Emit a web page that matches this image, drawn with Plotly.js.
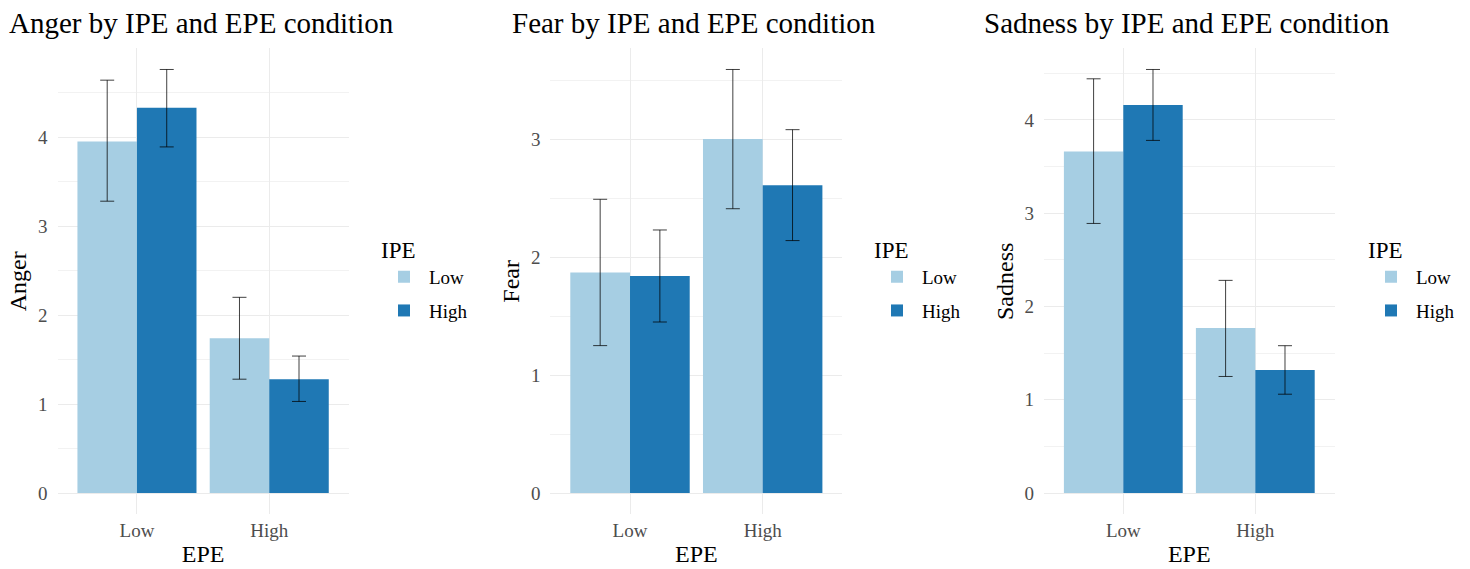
<!DOCTYPE html>
<html>
<head>
<meta charset="utf-8">
<script src="https://cdn.plot.ly/plotly-3.0.1.min.js"></script>
<style>
html,body{margin:0;padding:0;background:#fff;}
#chart{width:1470px;height:569px;}
</style>
</head>
<body>
<div id="chart"></div>
<script>
// ---- Data ----
const epeCategories = ['Low', 'High'];
const ipeLevels = ['Low', 'High'];
const ipeColors = ['#a6cee3', '#1f78b4'];

const angerLowIPE = [3.95, 1.74];
const angerLowIPEUpper = [4.64, 2.20];
const angerLowIPELower = [3.28, 1.28];
const angerHighIPE = [4.33, 1.28];
const angerHighIPEUpper = [4.76, 1.54];
const angerHighIPELower = [3.89, 1.03];

const fearLowIPE = [1.87, 3.00];
const fearLowIPEUpper = [2.49, 3.59];
const fearLowIPELower = [1.25, 2.41];
const fearHighIPE = [1.84, 2.61];
const fearHighIPEUpper = [2.23, 3.08];
const fearHighIPELower = [1.45, 2.14];

const sadnessLowIPE = [3.66, 1.77];
const sadnessLowIPEUpper = [4.44, 2.28];
const sadnessLowIPELower = [2.89, 1.25];
const sadnessHighIPE = [4.16, 1.32];
const sadnessHighIPEUpper = [4.54, 1.58];
const sadnessHighIPELower = [3.78, 1.06];

const panelTitles = ['Anger by IPE and EPE condition', 'Fear by IPE and EPE condition', 'Sadness by IPE and EPE condition'];
const yTitles = ['Anger', 'Fear', 'Sadness'];
const xTitle = 'EPE';
const legendTitle = 'IPE';

// ---- Build ----
const FONT = '"Liberation Serif", "Times New Roman", serif';
const panels = [
  {low: angerLowIPE, lowU: angerLowIPEUpper, lowL: angerLowIPELower, high: angerHighIPE, highU: angerHighIPEUpper, highL: angerHighIPELower},
  {low: fearLowIPE, lowU: fearLowIPEUpper, lowL: fearLowIPELower, high: fearHighIPE, highU: fearHighIPEUpper, highL: fearHighIPELower},
  {low: sadnessLowIPE, lowU: sadnessLowIPEUpper, lowL: sadnessLowIPELower, high: sadnessHighIPE, highU: sadnessHighIPEUpper, highL: sadnessHighIPELower}
];

const W = 1470, H = 569;
const xDomainsPx = [[57.6, 348.6], [550.4, 842.3], [1044.1, 1334.5]];
const yTopPx = 48.3, yBotPx = 514.3;
const legendXPx = [379, 872, 1366];
const titleXPx = [7, 510, 982];
const legendNames = ['legend', 'legend2', 'legend3'];

const traces = [];
const layout = {
  width: W, height: H,
  margin: {l: 0, r: 0, t: 0, b: 0},
  paper_bgcolor: '#ffffff',
  plot_bgcolor: '#ffffff',
  font: {family: FONT, color: '#000000'},
  barmode: 'group',
  bargap: 0.1,
  bargroupgap: 0,
  showlegend: true,
  annotations: []
};

panels.forEach((p, i) => {
  const n = i === 0 ? '' : String(i + 1);
  const xa = 'x' + n, ya = 'y' + n;
  const series = [
    {vals: p.low, up: p.lowU, lo: p.lowL},
    {vals: p.high, up: p.highU, lo: p.highL}
  ];
  series.forEach((s, k) => {
    traces.push({
      type: 'bar',
      x: epeCategories,
      y: s.vals,
      name: ipeLevels[k],
      xaxis: xa, yaxis: ya,
      legend: legendNames[i],
      legendgroup: 'g' + i + '_' + k,
      marker: {color: ipeColors[k], line: {width: 0}},
      error_y: {
        type: 'data', symmetric: false,
        array: s.up.map((u, j) => u - s.vals[j]),
        arrayminus: s.lo.map((l, j) => s.vals[j] - l),
        color: 'rgba(0,0,0,0.75)', thickness: 1, width: 7
      },
      hoverinfo: 'x+y+name'
    });
  });

  const maxUp = Math.max(...p.lowU, ...p.highU);
  layout['xaxis' + n] = {
    domain: [xDomainsPx[i][0] / W, xDomainsPx[i][1] / W],
    anchor: ya,
    type: 'category',
    categoryorder: 'array', categoryarray: epeCategories,
    range: [-0.6, 1.6],
    showgrid: true, gridcolor: '#ebebeb', gridwidth: 1,
    zeroline: false, showline: false, ticks: '',
    ticklabelstandoff: 3,
    tickfont: {family: FONT, size: 19, color: '#4d4d4d'},
    title: {text: xTitle, font: {family: FONT, size: 24, color: '#000000'}, standoff: 4}
  };
  layout['yaxis' + n] = {
    domain: [(H - yBotPx) / H, (H - yTopPx) / H],
    anchor: xa,
    range: [-0.05 * maxUp, 1.05 * maxUp],
    dtick: 1, tick0: 0,
    showgrid: true, gridcolor: '#ebebeb', gridwidth: 1,
    minor: {dtick: 0.5, tick0: 0, showgrid: true, gridcolor: '#f2f2f2', gridwidth: 1, ticks: ''},
    zeroline: false, showline: false, ticks: '',
    ticklabelstandoff: 9,
    tickfont: {family: FONT, size: 19, color: '#4d4d4d'},
    title: {text: yTitles[i], font: {family: FONT, size: 24, color: '#000000'}, standoff: 4}
  };
  layout[legendNames[i]] = {
    x: legendXPx[i] / W, xanchor: 'left',
    y: (H - 228) / H, yanchor: 'top',
    title: {text: legendTitle, font: {family: FONT, size: 23, color: '#000000'}},
    font: {family: FONT, size: 19, color: '#000000'},
    bgcolor: 'rgba(0,0,0,0)',
    itemwidth: 40,
    tracegroupgap: 6,
    traceorder: 'grouped'
  };
  layout.annotations.push({
    text: panelTitles[i],
    xref: 'paper', yref: 'paper',
    x: titleXPx[i] / W, xanchor: 'left',
    y: (H - 23) / H, yanchor: 'middle',
    showarrow: false,
    font: {family: FONT, size: 29, color: '#000000'}
  });
});

Plotly.newPlot('chart', traces, layout, {displayModeBar: false, staticPlot: true});
</script>
</body>
</html>
